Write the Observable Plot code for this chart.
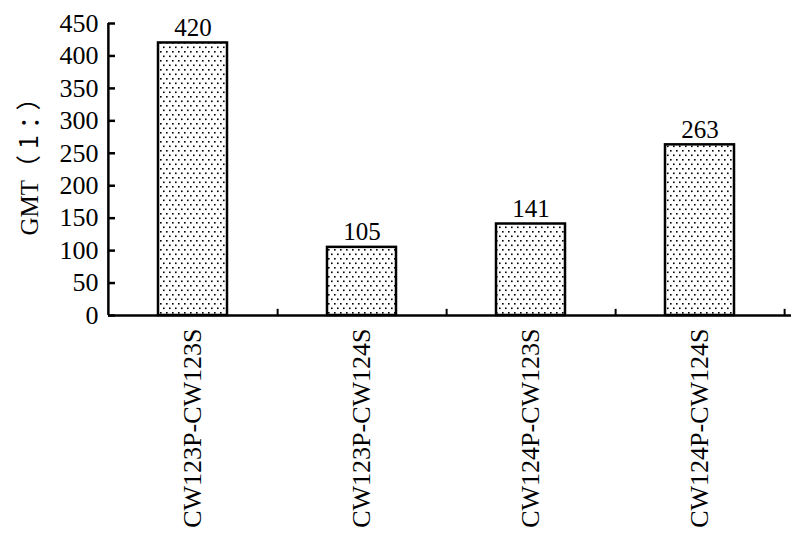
<!DOCTYPE html>
<html>
<head>
<meta charset="utf-8">
<script src="https://cdn.jsdelivr.net/npm/d3@7"></script>
<script src="https://cdn.jsdelivr.net/npm/@observablehq/plot@0.6"></script>
<style>
  html, body { margin: 0; padding: 0; background: white; }
</style>
</head>
<body>
<div id="chart"></div>
<script>
const categories = ["CW123P-CW123S", "CW123P-CW124S", "CW124P-CW123S", "CW124P-CW124S"];
const values = [420, 105, 141, 263];
const yTicks = [0, 50, 100, 150, 200, 250, 300, 350, 400, 450];
const yLabelLatin = "GMT";
const yLabelCJK = "（1：）";
const yLabel = yLabelLatin + yLabelCJK;

const data = categories.map((c, i) => ({cat: c, value: values[i]}));
const font = "'Liberation Serif', 'Times New Roman', 'Noto Sans CJK SC', serif";
const halfStep = (800 - 108 - 15) / categories.length / 2;

const chart = Plot.plot({
  width: 800,
  height: 546,
  marginLeft: 108,
  marginRight: 15,
  marginTop: 23,
  marginBottom: 231,
  style: {fontFamily: font, fontSize: "26px", background: "white", color: "black"},
  x: {domain: categories, paddingInner: 0.59, paddingOuter: 0.295, label: null},
  y: {domain: [0, 450], label: null},
  marks: [
    Plot.barY(data, {x: "cat", y: "value", fill: "url(#dots)", stroke: "black", strokeWidth: 2.5}),
    Plot.text(data, {x: "cat", y: "value", text: d => String(d.value), lineAnchor: "bottom", dy: -7, fontSize: 25}),
    // y axis line
    Plot.ruleX([categories[0]], {dx: -halfStep, y1: 0, y2: 450, strokeWidth: 2.5}),
    // y ticks pointing inward
    Plot.tickY(yTicks, {y: d => d, insetRight: 800 - 108 - 15 - 7, strokeWidth: 2.5}),
    // x axis line
    Plot.ruleY([0], {insetRight: -6, strokeWidth: 2.5}),
    // x boundary ticks pointing up
    Plot.ruleX(categories, {dx: halfStep, y1: 0, y2: 9.5, strokeWidth: 2}),
    Plot.axisY({ticks: yTicks, tickSize: 0, tickPadding: 10, fontSize: 26, label: null}),
    Plot.axisX({tickSize: 0, tickRotate: -90, tickPadding: 13, fontSize: 26, label: null}),
    // y-axis title
    Plot.text([yLabel], {frameAnchor: "left", rotate: -90, dx: -79, dy: -12, fontSize: 25, textAnchor: "middle"})
  ]
});

const svg = d3.select(chart.tagName.toLowerCase() === "svg" ? chart : chart.querySelector("svg"));
const defs = svg.insert("defs", ":first-child");
const pat = defs.append("pattern").attr("id", "dots").attr("patternUnits", "userSpaceOnUse")
  .attr("width", 6).attr("height", 9);
pat.append("rect").attr("width", 6).attr("height", 9).attr("fill", "white");
pat.append("rect").attr("x", 1).attr("y", 1.5).attr("width", 1.6).attr("height", 1.6).attr("fill", "black");
pat.append("rect").attr("x", 4).attr("y", 6).attr("width", 1.6).attr("height", 1.6).attr("fill", "black");

// mixed-font y-axis title: Latin serif + full-width CJK punctuation
const labelText = svg.selectAll("text").filter(function () { return this.textContent === yLabel; });
labelText.text(null);
labelText.append("tspan").text(yLabelLatin);
labelText.append("tspan").attr("font-family", "'Noto Sans CJK SC', sans-serif")
  .attr("letter-spacing", 6).text(yLabelCJK);

document.getElementById("chart").appendChild(chart);
</script>
</body>
</html>
